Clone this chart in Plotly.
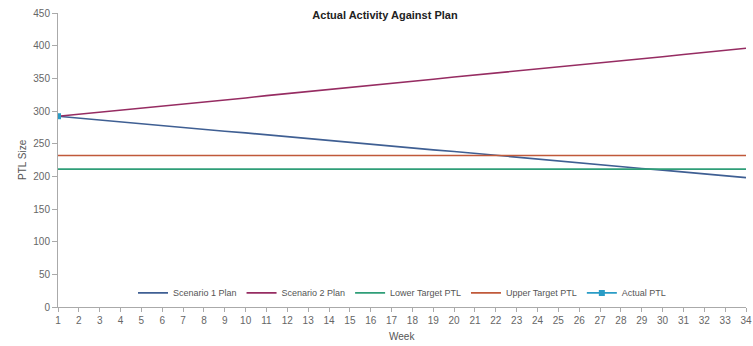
import plotly.graph_objects as go

weeks = list(range(1, 35))
scenario1 = [292, 289, 286, 283.5, 280.5, 277.5, 275, 272, 269, 266.5, 263.5, 260.5, 258, 255,
             252, 249, 246.5, 243.5, 240.5, 238, 235, 232, 229.5, 226.5, 223.5, 220.5, 218, 215,
             212, 209.5, 206.5, 203.5, 201, 198]
scenario2 = [292, 295, 298, 302, 305, 308, 311, 314, 317, 320, 323.5, 326.5, 330, 333, 336, 339,
             342, 345.5, 348.5, 352, 355, 358, 361, 364.5, 367.5, 371, 374, 377, 380, 383, 386.5,
             389.5, 393, 396]
lower_target = [211] * 34
upper_target = [232] * 34
actual_weeks = [1]
actual_ptl = [292]

W, H = 753, 346
ML, MR, MT, MB = 58, 7, 13, 39
PW, PH = W - ML - MR, H - MT - MB

font = "Liberation Sans, Arial, sans-serif"
fig = go.Figure()
fig.add_trace(go.Scatter(x=weeks, y=scenario1, mode="lines", name="Scenario 1 Plan",
                         line=dict(color="#3f5f93", width=1.6)))
fig.add_trace(go.Scatter(x=weeks, y=scenario2, mode="lines", name="Scenario 2 Plan",
                         line=dict(color="#962c62", width=1.6)))
fig.add_trace(go.Scatter(x=weeks, y=lower_target, mode="lines", name="Lower Target PTL",
                         line=dict(color="#2f9e78", width=1.6)))
fig.add_trace(go.Scatter(x=weeks, y=upper_target, mode="lines", name="Upper Target PTL",
                         line=dict(color="#c0593a", width=1.6)))
fig.add_trace(go.Scatter(x=actual_weeks, y=actual_ptl, mode="lines+markers", name="Actual PTL",
                         line=dict(color="#2a9cc6", width=1.6),
                         marker=dict(symbol="square", size=6, color="#2a9cc6")))

fig.update_layout(
    width=W, height=H,
    margin=dict(l=ML, r=MR, t=MT, b=MB, autoexpand=False),
    paper_bgcolor="white", plot_bgcolor="white",
    font=dict(family=font, size=10, color="#666666"),
    title=dict(text="<b>Actual Activity Against Plan</b>", x=385 / W, xanchor="center",
               xref="container", y=1 - 15 / H, yanchor="middle", yref="container",
               font=dict(size=11, color="#222222")),
    showlegend=True,
    legend=dict(orientation="h", x=0.5, xanchor="center", y=0.048, yanchor="middle",
                bgcolor="rgba(0,0,0,0)", font=dict(size=9, color="#555555"),
                itemwidth=30, tracegroupgap=0),
    xaxis=dict(range=[1, 34], tickmode="linear", tick0=1, dtick=1, showgrid=False,
               zeroline=False, showline=True, linecolor="#aaaaaa", linewidth=1,
               ticks="outside", ticklen=4, tickcolor="#aaaaaa", automargin=False),
    yaxis=dict(range=[0, 450], dtick=50, showgrid=False, zeroline=False, showline=True,
               linecolor="#aaaaaa", linewidth=1, ticks="outside", ticklen=5,
               tickcolor="#aaaaaa", automargin=False),
    annotations=[
        dict(text="Week", xref="paper", x=0.5, yref="paper", y=(307 - 337) / PH,
             xanchor="center", yanchor="middle", showarrow=False,
             font=dict(size=10, color="#555555")),
        dict(text="PTL Size", xref="paper", x=(22 - ML) / PW, yref="paper", y=0.5,
             xanchor="center", yanchor="middle", textangle=-90, showarrow=False,
             font=dict(size=10, color="#555555")),
    ],
)
fig.write_html("out.html", config={"displayModeBar": False},
               post_script="document.body.style.margin='0';")
